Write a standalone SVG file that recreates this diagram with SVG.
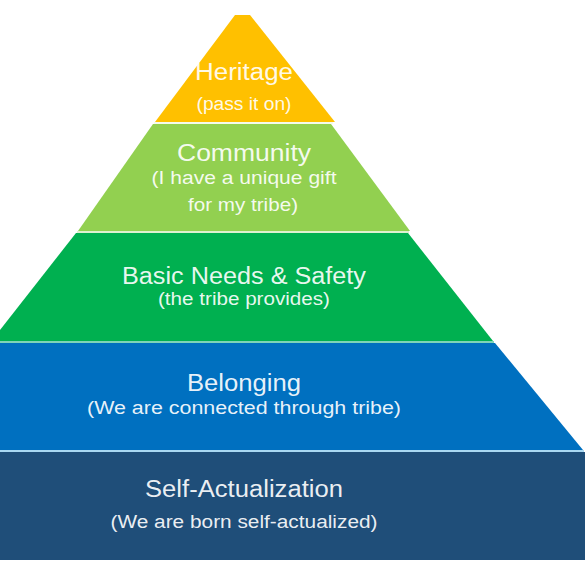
<svg xmlns="http://www.w3.org/2000/svg" width="585" height="585" viewBox="0 0 585 585">
<style>
.t{font-family:"Liberation Sans",Arial,sans-serif;fill:#ffffff;fill-opacity:0.92;text-anchor:middle;}
.h{font-size:23px;}
.s{font-size:18px;}
</style>
<rect width="585" height="585" fill="#ffffff"/>
<g id="layer-heritage">
<polygon points="235,15 250,15 335,122 155,122" fill="#FFC000"/>
<text class="t h" x="244" y="80" textLength="98" lengthAdjust="spacingAndGlyphs">Heritage</text>
<text class="t s" x="244" y="110" textLength="95" lengthAdjust="spacingAndGlyphs">(pass it on)</text>
</g>
<g id="layer-community">
<polygon points="153,124 331,124 410,231 78,231" fill="#92D050"/>
<text class="t h" x="244" y="161" textLength="134" lengthAdjust="spacingAndGlyphs">Community</text>
<text class="t s" x="244" y="184" textLength="185" lengthAdjust="spacingAndGlyphs">(I have a unique gift</text>
<text class="t s" x="243" y="211" textLength="110" lengthAdjust="spacingAndGlyphs">for my tribe)</text>
</g>
<g id="layer-basic">
<polygon points="76,233 408,233 493,341 0,341 0,330" fill="#00B050"/>
<text class="t h" x="244" y="284" textLength="244" lengthAdjust="spacingAndGlyphs">Basic Needs &amp; Safety</text>
<text class="t s" x="244" y="305" textLength="172" lengthAdjust="spacingAndGlyphs">(the tribe provides)</text>
</g>
<g id="layer-belonging">
<polygon points="0,343 495,343 583,450 0,450" fill="#0070C0"/>
<text class="t h" x="244" y="391" textLength="114" lengthAdjust="spacingAndGlyphs">Belonging</text>
<text class="t s" x="244" y="414" textLength="314" lengthAdjust="spacingAndGlyphs">(We are connected through tribe)</text>
</g>
<g id="layer-self">
<polygon points="0,452 585,452 585,560 0,560" fill="#1F4E79"/>
<text class="t h" x="244" y="497" textLength="198" lengthAdjust="spacingAndGlyphs">Self-Actualization</text>
<text class="t s" x="244" y="528" textLength="267" lengthAdjust="spacingAndGlyphs">(We are born self-actualized)</text>
</g>
<g id="separators" stroke-width="2">
<line x1="154" y1="123" x2="333" y2="123" stroke="#F4FBEF"/>
<line x1="77" y1="232" x2="409" y2="232" stroke="#DDF2D0"/>
<line x1="0" y1="342" x2="494" y2="342" stroke="#7FD4B8"/>
<line x1="0" y1="451" x2="584" y2="451" stroke="#A9D8F2"/>
</g>
</svg>
